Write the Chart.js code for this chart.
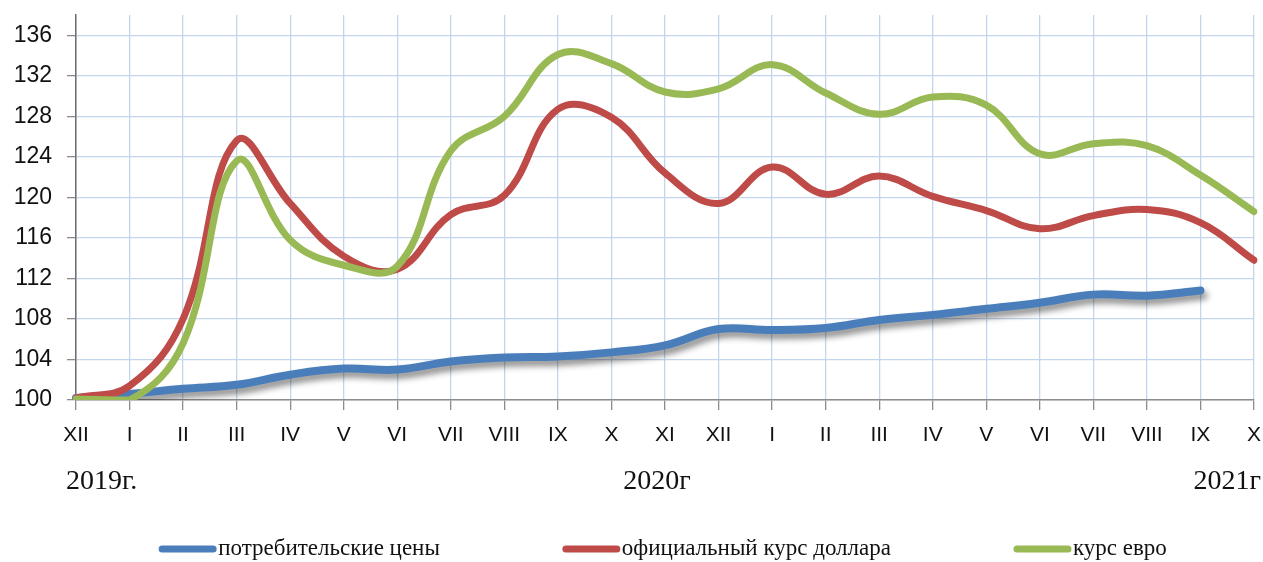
<!DOCTYPE html>
<html>
<head>
<meta charset="utf-8">
<script src="https://cdn.jsdelivr.net/npm/chart.js@4.4.1/dist/chart.umd.min.js"></script>
<style>
  html, body { margin: 0; padding: 0; background: #fff; }
  #wrap { width: 1263px; height: 562px; }
</style>
</head>
<body>
<div id="wrap"><canvas id="myChart" width="1263" height="562"></canvas></div>
<script>
// месяцы по оси X
const months = ['XII', 'I', 'II', 'III', 'IV', 'V', 'VI', 'VII', 'VIII', 'IX', 'X', 'XI',
    'XII', 'I', 'II', 'III', 'IV', 'V', 'VI', 'VII', 'VIII', 'IX', 'X'];
const years = ['2019г.', '2020г', '2021г'];

const ceny = [100.2, 100.6, 101.1, 101.5, 102.5, 103.1, 103.0, 103.8, 104.2, 104.3, 104.7, 105.4,
    107.0, 106.9, 107.1, 107.9, 108.4, 109.0, 109.6, 110.4, 110.3, 110.8, null];
const dollar = [100.2, 101.4, 108.0, 125.6, 119.4, 114.2, 112.9, 118.3, 120.2, 128.7, 127.9, 122.4,
    119.4, 123.0, 120.3, 122.1, 120.1, 118.7, 116.9, 118.2, 118.8, 117.5, 113.8];
const evro = [100.1, 100.0, 105.6, 123.6, 115.8, 113.3, 113.2, 124.6, 128.0, 134.1, 133.2, 130.4,
    130.7, 133.1, 130.3, 128.2, 129.9, 129.1, 124.3, 125.3, 125.1, 122.2, 118.6];

const yTicks = [100, 104, 108, 112, 116, 120, 124, 128, 132, 136];

const gridBlue = '#c3d5ec';
const axisGray = '#8c8c8c';

// тень под синей линией
const shadowPlugin = {
    id: 'shadow',
    beforeDatasetDraw(chart, args) {
        if (args.index !== 0) return;
        const c = chart.ctx;
        c.save();
        c.shadowColor = 'rgba(0,0,0,0.45)';
        c.shadowBlur = 6;
        c.shadowOffsetX = 3;
        c.shadowOffsetY = 5;
    },
    afterDatasetDraw(chart, args) {
        if (args.index !== 0) return;
        chart.ctx.restore();
    }
};

// подписи годов под осью
const yearsPlugin = {
    id: 'years',
    afterDraw(chart) {
        const c = chart.ctx;
        const x = chart.scales.x;
        const y = x.top + 82;
        c.save();
        c.font = '28px "Liberation Serif", "Times New Roman", serif';
        c.fillStyle = '#111';
        c.textBaseline = 'middle';
        c.textAlign = 'left';
        c.fillText(years[0], 66, y);
        c.textAlign = 'center';
        c.fillText(years[1], (x.left + x.right) / 2 - 8, y);
        c.textAlign = 'right';
        c.fillText(years[2], chart.width - 2, y);
        c.restore();
    }
};

// легенда внизу, с большими промежутками
const legendPlugin = {
    id: 'bigLegend',
    afterDraw(chart) {
        const c = chart.ctx;
        const ds = chart.data.datasets;
        const lineW = 57, gap = 2, between = 123;
        c.save();
        c.font = '23px "Liberation Serif", "Times New Roman", serif';
        const widths = ds.map(d => lineW + gap + c.measureText(d.label).width);
        const total = widths.reduce((a, b) => a + b, 0) + between * (ds.length - 1);
        let x = 663 - total / 2;
        const y = 549;
        ds.forEach((d, i) => {
            c.strokeStyle = d.borderColor;
            c.lineWidth = 7;
            c.lineCap = 'round';
            c.beginPath();
            c.moveTo(x + 3, y);
            c.lineTo(x + lineW - 3, y);
            c.stroke();
            c.fillStyle = '#111';
            c.textBaseline = 'middle';
            c.textAlign = 'left';
            c.fillText(d.label, x + lineW + gap, y);
            x += widths[i] + between;
        });
        c.restore();
    }
};

const ctx = document.getElementById('myChart').getContext('2d');
const myChart = new Chart(ctx, {
    type: 'line',
    data: {
        labels: months,
        datasets: [{
            label: 'потребительские цены',
            data: ceny,
            borderColor: '#4a7ebb',
            backgroundColor: '#4a7ebb',
            borderWidth: 8,
            order: 3
        }, {
            label: 'официальный курс доллара',
            data: dollar,
            borderColor: '#be4b48',
            backgroundColor: '#be4b48',
            borderWidth: 7,
            order: 2
        }, {
            label: 'курс евро',
            data: evro,
            borderColor: '#98b954',
            backgroundColor: '#98b954',
            borderWidth: 7,
            order: 1
        }]
    },
    options: {
        responsive: false,
        animation: false,
        devicePixelRatio: 1,
        layout: { padding: { top: 15, right: 9, left: 0, bottom: 4 } },
        elements: {
            point: { radius: 0, hoverRadius: 0 },
            line: { tension: 0.4, borderCapStyle: 'round', borderJoinStyle: 'round', fill: false }
        },
        scales: {
            x: {
                offset: false,
                grid: { color: gridBlue, lineWidth: 1.3, tickColor: axisGray, tickLength: 10, drawTicks: true },
                border: { color: axisGray, width: 1.5 },
                ticks: {
                    autoSkip: false,
                    maxRotation: 0,
                    padding: 13,
                    color: '#111',
                    font: { family: '"Liberation Sans", Arial, sans-serif', size: 21 }
                },
                afterFit(scale) {
                    scale.height = 158;
                    scale.paddingLeft = 0;
                    scale.paddingRight = 0;
                }
            },
            y: {
                min: 100,
                max: 138,
                afterBuildTicks(scale) { scale.ticks = yTicks.map(v => ({ value: v })); },
                grid: { color: gridBlue, lineWidth: 1.3, tickColor: axisGray, tickLength: 9 },
                border: { color: '#6f6f6f', width: 1.5 },
                ticks: {
                    padding: 15,
                    color: '#111',
                    font: { family: '"Liberation Sans", Arial, sans-serif', size: 23 }
                },
                afterFit(scale) {
                    scale.width = 76;
                    scale.paddingTop = 0;
                    scale.paddingBottom = 0;
                }
            }
        },
        plugins: {
            legend: { display: false },
            tooltip: { enabled: false },
            title: { display: false }
        }
    },
    plugins: [shadowPlugin, yearsPlugin, legendPlugin]
});
</script>
</body>
</html>
